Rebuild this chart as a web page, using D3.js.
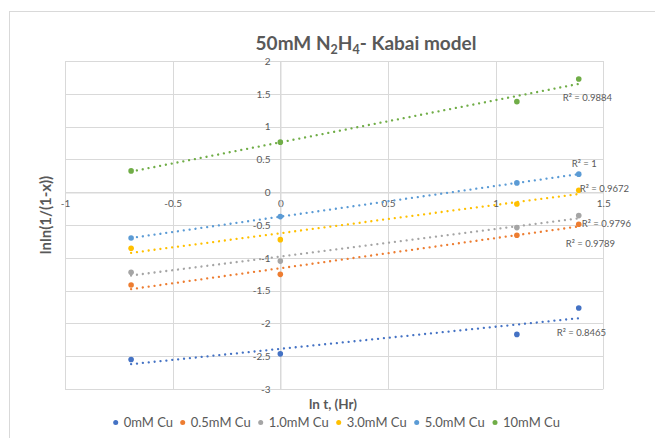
<!DOCTYPE html>
<html><head><meta charset="utf-8">
<script src="https://cdn.jsdelivr.net/npm/d3@7"></script>
<style>
html,body{margin:0;padding:0;background:#fff;}
svg{display:block;font-family:Lato,"Open Sans",sans-serif;}
</style></head>
<body><svg id="c" width="655" height="438"></svg>
<script>
const xValues = [-0.693, 0, 1.0986, 1.386];
const seriesNames = ["0mM Cu","0.5mM Cu","1.0mM Cu","3.0mM Cu","5.0mM Cu","10mM Cu"];
const s0mM   = [-2.55, -2.464, -2.168, -1.766];
const s05mM  = [-1.415, -1.252, -0.657, -0.489];
const s10mM  = [-1.22, -1.05, -0.54, -0.357];
const s30mM  = [-0.855, -0.723, -0.179, 0.03];
const s50mM  = [-0.698, -0.372, 0.142, 0.275];
const s100mM = [0.325, 0.763, 1.38, 1.725];
const r2Labels = ["R² = 0.8465","R² = 0.9789","R² = 0.9796","R² = 0.9672","R² = 1","R² = 0.9884"];
const colors = ["#4472C4","#ED7D31","#A5A5A5","#FFC000","#5B9BD5","#70AD47"];
const xTicks = [-1,-0.5,0,0.5,1,1.5];
const yTicks = [-3,-2.5,-2,-1.5,-1,-0.5,0,0.5,1,1.5,2];

const allSeries = [s0mM,s05mM,s10mM,s30mM,s50mM,s100mM];
const svg = d3.select("#c");
const x = d3.scaleLinear().domain([-1,1.5]).range([65,603.3]);
const y = d3.scaleLinear().domain([-3,2]).range([389,61]);
const grid="#d9d9d9", txt="#595959";

// chart border
svg.append("rect").attr("x",9.5).attr("y",11.5).attr("width",660).attr("height",440)
  .attr("fill","none").attr("stroke","#d9d9d9").attr("stroke-width",1);

// gridlines
svg.append("g").selectAll("line").data(xTicks).join("line")
  .attr("x1",d=>Math.round(x(d))+0.5).attr("x2",d=>Math.round(x(d))+0.5)
  .attr("y1",y(2)).attr("y2",y(-3)).attr("stroke",grid);
svg.append("g").selectAll("line").data(yTicks).join("line")
  .attr("y1",d=>Math.round(y(d))+0.5).attr("y2",d=>Math.round(y(d))+0.5)
  .attr("x1",x(-1)).attr("x2",x(1.5)).attr("stroke",grid);

// axes (crossing at 0)
const xAxis = d3.axisBottom(x).tickValues(xTicks).tickSize(0).tickPadding(7).tickFormat(d=>d===0?"0":String(d));
const gx = svg.append("g").attr("transform",`translate(0,${Math.round(y(0))+0.5})`).call(xAxis);
const yAxis = d3.axisLeft(y).tickValues(yTicks).tickSize(0).tickPadding(10).tickFormat(d=>String(d));
const gy = svg.append("g").attr("transform",`translate(${Math.round(x(0))+0.5},0)`).call(yAxis);
[gx,gy].forEach(g=>{
  g.select(".domain").attr("stroke",grid);
  g.selectAll("text").attr("fill",txt).attr("font-size",10).attr("font-family","Lato,'Open Sans',sans-serif");
});

// trendlines and points
const plot = svg.append("g");
allSeries.forEach((vals,i)=>{
  const mx=d3.mean(xValues), my=d3.mean(vals);
  let sxy=0,sxx=0;
  xValues.forEach((xv,k)=>{sxy+=(xv-mx)*(vals[k]-my); sxx+=(xv-mx)*(xv-mx);});
  const b=sxy/sxx, a=my-b*mx;
  const x0=d3.min(xValues), x1=d3.max(xValues);
  plot.append("line")
    .attr("x1",x(x0)).attr("y1",y(a+b*x0)).attr("x2",x(x1)).attr("y2",y(a+b*x1))
    .attr("stroke",colors[i]).attr("stroke-width",2.3)
    .attr("stroke-linecap","round").attr("stroke-dasharray","0.01 5.9");
  plot.append("g").selectAll("circle").data(vals).join("circle")
    .attr("cx",(d,k)=>x(xValues[k])).attr("cy",d=>y(d)).attr("r",2.8).attr("fill",colors[i]);
});

// R² labels (offsets from end of each series)
const labOff = [[-22,24],[-13,19],[3,8],[1,-2],[-7,-11],[-16,18]];
allSeries.forEach((vals,i)=>{
  const xe=x(d3.max(xValues)), ye=y(vals[vals.length-1]);
  svg.append("text").attr("x",xe+labOff[i][0]).attr("y",ye+labOff[i][1]+3.5)
    .attr("font-size",9.5).attr("fill",txt).text(r2Labels[i]);
});

// title
const t = svg.append("text").attr("x",366).attr("y",50).attr("text-anchor","middle")
  .attr("font-size",19).attr("font-weight","bold").attr("fill",txt);
t.append("tspan").text("50mM N");
t.append("tspan").attr("font-size",12.5).attr("dy",4).text("2");
t.append("tspan").attr("dy",-4).text("H");
t.append("tspan").attr("font-size",12.5).attr("dy",4).text("4");
t.append("tspan").attr("dy",-4).text("- Kabai model");

// axis titles
svg.append("text").attr("transform","translate(51,215) rotate(-90)").attr("text-anchor","middle")
  .attr("font-size",15).attr("font-weight","bold").attr("fill",txt).text("lnln(1/(1-x))");
svg.append("text").attr("x",333).attr("y",409).attr("text-anchor","middle")
  .attr("font-size",13.5).attr("font-weight","bold").attr("fill",txt).text("ln t, (Hr)");

// legend
const legX = [115.7,182.7,260.7,338.7,416.7,495];
const leg = svg.append("g").selectAll("g").data(seriesNames).join("g")
  .attr("transform",(d,i)=>`translate(${legX[i]},422.5)`);
leg.append("circle").attr("r",2.5).attr("fill",(d,i)=>colors[i]);
leg.append("text").attr("x",8).attr("y",4.5).attr("font-size",13).attr("fill",txt).text(d=>d);
</script></body></html>
